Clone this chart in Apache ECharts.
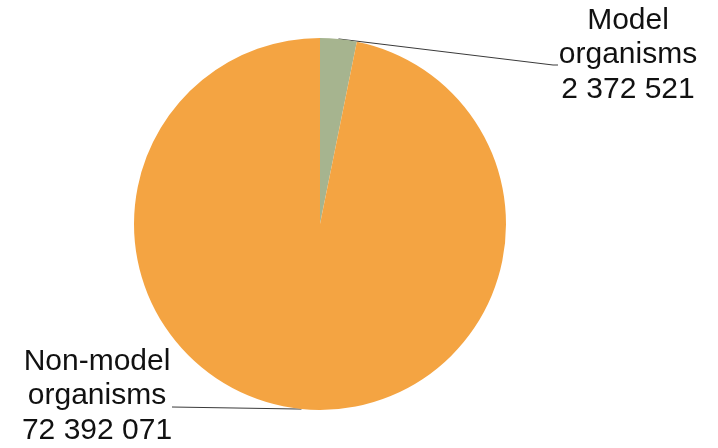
<!DOCTYPE html>
<html>
<head>
<meta charset="utf-8">
<script src="https://cdn.jsdelivr.net/npm/echarts@6/dist/echarts.min.js"></script>
<style>
  html, body { margin: 0; padding: 0; background: #fff; }
  #chart { width: 718px; height: 448px; }
</style>
</head>
<body>
<div id="chart"></div>
<script>
// Organism groups and their counts
const categories = ['Model organisms', 'Non-model organisms'];
const counts = [2372521, 72392071];
const colors = ['#a6b48f', '#f4a442'];

// Label centres for each slice (x, y in pixels)
const labelCentres = [[628, 55], [97, 396]];
// Where each leader line meets its label
const leaderEnds = [[[553, 65], [558, 65]], [[172, 407]]];

function spaced(n) {
  return String(n).replace(/\B(?=(\d{3})+(?!\d))/g, ' ');
}

const chart = echarts.init(document.getElementById('chart'), null, { renderer: 'canvas' });

chart.setOption({
  backgroundColor: '#ffffff',
  animation: false,
  series: [{
    type: 'pie',
    center: [320, 224],
    radius: [0, 186],
    startAngle: 90,
    clockwise: true,
    avoidLabelOverlap: false,
    itemStyle: { borderWidth: 0 },
    emphasis: { disabled: true },
    data: categories.map((name, i) => ({
      name: name,
      value: counts[i],
      itemStyle: { color: colors[i] }
    })),
    label: {
      show: true,
      position: 'outside',
      formatter: p => p.name.replace(' ', '\n') + '\n' + spaced(p.value),
      fontFamily: '"Liberation Sans", Arial, sans-serif',
      fontSize: 30,
      lineHeight: 34.5,
      color: '#111',
      align: 'center'
    },
    labelLine: {
      show: true,
      length: 10,
      length2: 10,
      lineStyle: { color: '#3a3a3a', width: 1 }
    },
    labelLayout: function (params) {
      const i = params.dataIndex;
      const start = params.labelLinePoints ? params.labelLinePoints[0] : null;
      const out = {
        x: labelCentres[i][0],
        y: labelCentres[i][1],
        align: 'center',
        verticalAlign: 'middle'
      };
      if (start) {
        out.labelLinePoints = [start].concat(leaderEnds[i]);
      }
      return out;
    }
  }]
});
</script>
</body>
</html>
